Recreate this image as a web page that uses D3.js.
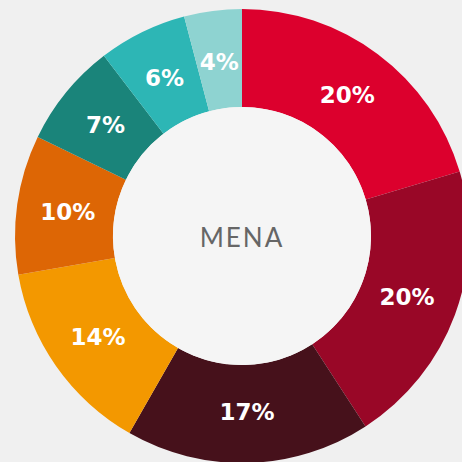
<!DOCTYPE html>
<html>
<head>
<meta charset="utf-8">
<script src="https://cdn.jsdelivr.net/npm/d3@7"></script>
<style>
  html, body { margin: 0; padding: 0; background: #f0f0f0; }
  svg { display: block; }
</style>
</head>
<body>
<svg id="chart"></svg>
<script>
// Shares shown on the ring, clockwise from 12 o'clock
const categories = ['a', 'b', 'c', 'd', 'e', 'f', 'g', 'h'];
const values = [20.4, 20.4, 17.4, 14.0, 9.9, 7.4, 6.3, 4.1];
const labels = ['20%', '20%', '17%', '14%', '10%', '7%', '6%', '4%'];
const colors = ['#dc002d', '#990727', '#46111b', '#f39800', '#dd6605', '#1a847a', '#2db6b5', '#8ed3d1'];
const centerLabel = 'MENA';

const width = 462;
const height = 462;
const cx = 242;
const cy = 236;
const outerR = 227;
const innerR = 129;

const svg = d3.select('#chart')
    .attr('width', width)
    .attr('height', height);

svg.append('rect')
    .attr('width', width)
    .attr('height', height)
    .attr('fill', '#f0f0f0');

const g = svg.append('g')
    .attr('transform', `translate(${cx},${cy})`);

const color = d3.scaleOrdinal().domain(categories).range(colors);

const pie = d3.pie()
    .sort(null)
    .value(d => d.value);

const arcs = pie(categories.map((c, i) => ({ key: c, value: values[i], label: labels[i] })));

const arc = d3.arc().innerRadius(innerR).outerRadius(outerR);
const labelArc = d3.arc().innerRadius(176).outerRadius(176);

// slices
g.selectAll('.slice')
    .data(arcs)
    .join('path')
    .attr('class', 'slice')
    .attr('d', arc)
    .attr('fill', d => color(d.data.key));

// inner disc
g.append('circle')
    .attr('r', innerR)
    .attr('fill', '#f5f5f5');

// percent labels
g.selectAll('.label')
    .data(arcs)
    .join('text')
    .attr('class', 'label')
    .attr('transform', d => `translate(${labelArc.centroid(d)})`)
    .attr('text-anchor', 'middle')
    .attr('dy', '0.36em')
    .attr('fill', '#ffffff')
    .attr('font-family', 'DejaVu Sans, sans-serif')
    .attr('font-weight', 'bold')
    .attr('font-size', 23)
    .text(d => d.data.label);

// center title
g.append('text')
    .attr('text-anchor', 'middle')
    .attr('y', 10.5)
    .attr('fill', '#666666')
    .attr('font-family', 'Lato, sans-serif')
    .attr('font-size', 26)
    .attr('letter-spacing', 2)
    .text(centerLabel);
</script>
</body>
</html>
